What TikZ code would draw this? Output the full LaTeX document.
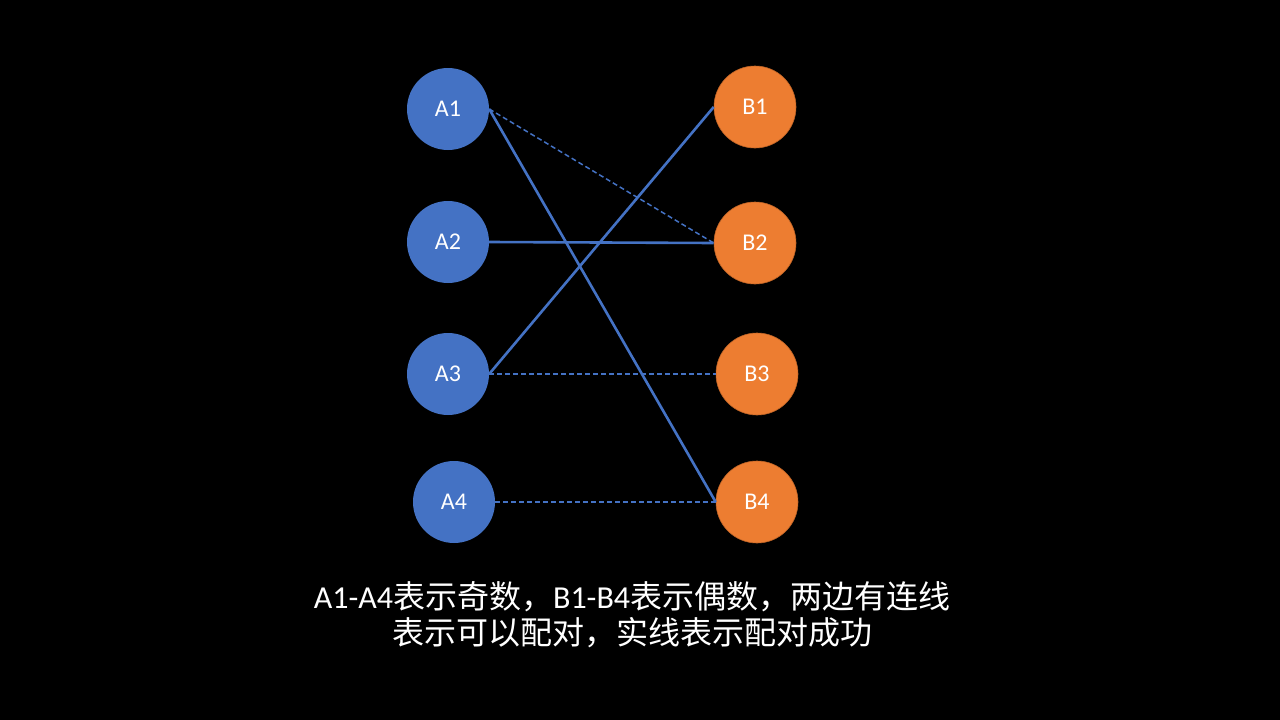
\documentclass[tikz,border=0pt]{standalone}
\usepackage{fontspec}
\setmainfont{Carlito}
\newfontfamily\cjk{Noto Sans CJK SC}
\definecolor{nblue}{HTML}{4472C4}
\definecolor{norange}{HTML}{ED7D31}
\begin{document}
\begin{tikzpicture}[x=1pt,y=-1pt,
  anode/.style={circle,fill=nblue,minimum size=82pt,inner sep=0pt,text=white,font=\fontsize{24}{26}\selectfont},
  bnode/.style={circle,fill=norange,draw=norange!80!black,line width=0.6pt,minimum size=82pt,inner sep=0pt,text=white,font=\fontsize{24}{26}\selectfont},
  solidlink/.style={draw=nblue,line width=2.6pt},
  dashlink/.style={draw=nblue,line width=1.5pt,dash pattern=on 5pt off 3pt}]
\fill[black] (0,0) rectangle (1280,720);
\useasboundingbox (0,0) rectangle (1280,720);
\node[anode] (A1) at (448,109) {A1};
\node[anode] (A2) at (448,242) {A2};
\node[anode] (A3) at (448,374) {A3};
\node[anode] (A4) at (454,502) {A4};
\node[bnode] (B1) at (755,107) {B1};
\node[bnode] (B2) at (755,243) {B2};
\node[bnode] (B3) at (757,374) {B3};
\node[bnode] (B4) at (757,502) {B4};
\draw[dashlink] (A1.east) -- (B2.west);
\draw[solidlink] (A1.east) -- (B4.west);
\draw[solidlink] (A2.east) -- (B2.west);
\draw[solidlink] (A3.east) -- (B1.west);
\draw[dashlink] (A3.east) -- (B3.west);
\draw[dashlink] (A4.east) -- (B4.west);
\node[text=white,align=center,font=\fontsize{32}{36}\selectfont] (cap) at (632,615)
  {A1-A4{\cjk 表示奇数，}B1-B4{\cjk 表示偶数，两边有连线}\\{\cjk 表示可以配对，实线表示配对成功}};
\end{tikzpicture}
\end{document}
